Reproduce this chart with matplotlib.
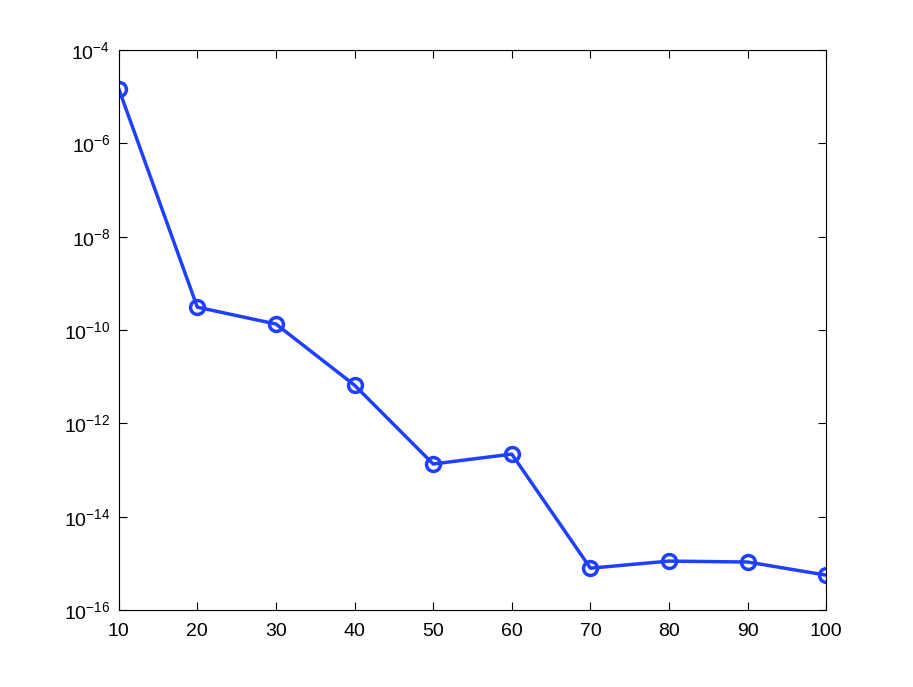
import matplotlib

matplotlib.use("Agg")
import matplotlib.pyplot as plt  # noqa: E402
from matplotlib.ticker import LogLocator, NullLocator  # noqa: E402

# values
n_points = [10, 20, 30, 40, 50, 60, 70, 80, 90, 100]
errors = [1.5e-5, 3.1e-10, 1.35e-10, 6.6e-12, 1.35e-13, 2.2e-13, 7.9e-16, 1.12e-15, 1.07e-15, 5.6e-16]

plt.rcParams["font.family"] = ["Liberation Sans", "DejaVu Sans"]
plt.rcParams["mathtext.fontset"] = "custom"
plt.rcParams["mathtext.rm"] = "Liberation Sans"
plt.rcParams["mathtext.it"] = "Liberation Sans"

fig = plt.figure(figsize=(9.13, 6.87), dpi=100)
ax = fig.add_axes([0.13, 0.112, 0.775, 0.815])

ax.semilogy(n_points, errors, "-o", color="#2040ff", linewidth=2.5,
            markersize=10, markerfacecolor="none", markeredgewidth=2.5)

ax.set_xlim(10, 100)
ax.set_ylim(1e-16, 1e-4)
ax.set_xticks(range(10, 101, 10))
ax.yaxis.set_major_locator(LogLocator(base=100.0))
ax.yaxis.set_minor_locator(NullLocator())
ax.tick_params(direction="in", top=True, right=True, labelsize=14, length=6, width=0.8)
ax.tick_params(axis="x", pad=9)
ax.tick_params(axis="y", pad=6)
for s in ax.spines.values():
    s.set_linewidth(0.8)

fig.savefig("out.png", dpi=100)
